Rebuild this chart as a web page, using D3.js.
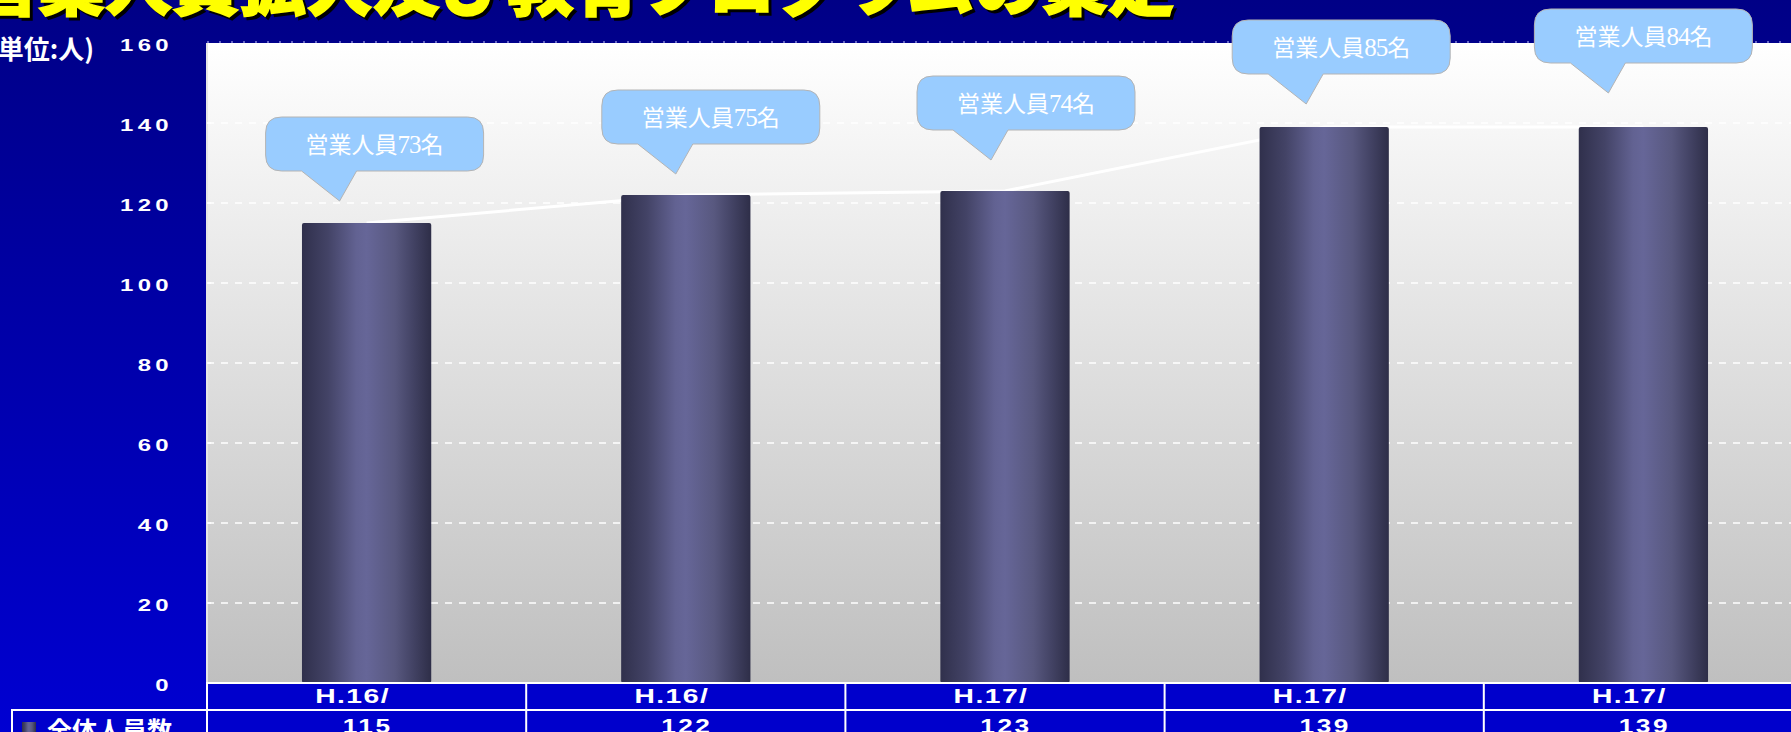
<!DOCTYPE html>
<html>
<head>
<meta charset="utf-8">
<script src="https://cdn.jsdelivr.net/npm/d3@7"></script>
<style>
  html, body { margin: 0; padding: 0; background: #00008a; overflow: hidden; }
  svg { display: block; }
</style>
</head>
<body>
<svg id="chart" width="1791" height="732"></svg>
<script>
// ---- data ----
const titleText = "営業人員拡大及び教育プログラムの策定";
const unitLabel = "(単位:人)";
const seriesName = "全体人員数";
const categories = ["H.16/", "H.16/", "H.17/", "H.17/", "H.17/"];
const totalStaff = [115, 122, 123, 139, 139];
const salesStaff = [73, 75, 74, 85, 84];
const yTicks = [0, 20, 40, 60, 80, 100, 120, 140, 160];

// callout placement relative to each bar (horizontal shift, gap above bar top)
const calloutShiftX = [8, 25, 21, 17, 0];
const calloutLift = [52, 51, 61, 53, 64];

// ---- layout ----
const W = 1791, H = 732;
const plotLeft = 207, plotRight = 1803, plotTop = 43, plotBottom = 683;
const row1Bottom = 710, tableLeft = 12;

const svg = d3.select("#chart");
const defs = svg.append("defs");

const bgGrad = defs.append("linearGradient").attr("id", "bgGrad")
  .attr("x1", 0).attr("y1", 0).attr("x2", 0).attr("y2", 1);
bgGrad.append("stop").attr("offset", 0).attr("stop-color", "#000086");
bgGrad.append("stop").attr("offset", 1).attr("stop-color", "#0000d2");

const plotGrad = defs.append("linearGradient").attr("id", "plotGrad")
  .attr("x1", 0).attr("y1", 0).attr("x2", 0).attr("y2", 1);
plotGrad.append("stop").attr("offset", 0).attr("stop-color", "#ffffff");
plotGrad.append("stop").attr("offset", 1).attr("stop-color", "#bfbfbf");

const barGrad = defs.append("linearGradient").attr("id", "barGrad")
  .attr("x1", 0).attr("y1", 0).attr("x2", 1).attr("y2", 0);
[[0, "#30304c"], [0.2, "#434366"], [0.42, "#626292"], [0.5, "#666698"],
 [0.72, "#58587f"], [0.85, "#444466"], [1, "#2e2e48"]].forEach(([o, c]) =>
  barGrad.append("stop").attr("offset", o).attr("stop-color", c));

svg.append("rect").attr("width", W).attr("height", H).attr("fill", "url(#bgGrad)");

// ---- scales ----
const x = d3.scaleBand().domain(d3.range(categories.length))
  .range([plotLeft, plotRight]).padding(0);
const y = d3.scaleLinear().domain([0, 160]).range([plotBottom, plotTop]);
const barW = x.bandwidth() * 0.405;
const cx = i => x(i) + x.bandwidth() / 2;

// ---- plot area ----
svg.append("rect")
  .attr("x", plotLeft).attr("y", plotTop)
  .attr("width", plotRight - plotLeft).attr("height", plotBottom - plotTop)
  .attr("fill", "url(#plotGrad)");

// dashed gridlines
svg.append("g").selectAll("line").data(yTicks.filter(t => t > 0)).join("line")
  .attr("x1", plotLeft).attr("x2", plotRight)
  .attr("y1", d => y(d) - (d === 160 ? 1 : 0)).attr("y2", d => y(d) - (d === 160 ? 1 : 0))
  .attr("stroke", d => d === 160 ? "#c8c8ff" : "#ffffff")
  .attr("stroke-width", d => d === 160 ? 1 : 1.6)
  .attr("stroke-dasharray", d => d === 160 ? "2,10" : "7,7");

// connecting line through totals (sits behind the bars)
svg.append("path")
  .datum(totalStaff)
  .attr("fill", "none").attr("stroke", "#ffffff").attr("stroke-width", 3)
  .attr("d", d3.line().x((d, i) => cx(i)).y(d => y(d)));

// bars
svg.append("g").selectAll("rect").data(totalStaff).join("rect")
  .attr("x", (d, i) => cx(i) - barW / 2)
  .attr("y", d => y(d))
  .attr("width", barW)
  .attr("height", d => y(0) - y(d))
  .attr("rx", 2)
  .attr("fill", "url(#barGrad)");

// axis frame
svg.append("line").attr("x1", plotLeft).attr("x2", plotLeft)
  .attr("y1", plotTop).attr("y2", plotBottom)
  .attr("stroke", "#e6e6e6").attr("stroke-width", 2);
svg.append("g").selectAll("line").data(yTicks.filter(t => t > 0 && t < 160)).join("line")
  .attr("x1", plotLeft).attr("x2", plotLeft + 4)
  .attr("y1", d => y(d)).attr("y2", d => y(d))
  .attr("stroke", "#ffffff").attr("stroke-width", 1.5);

// y tick labels
const wide = "'Liberation Sans', Arial, sans-serif";
svg.append("g").selectAll("text").data(yTicks).join("text")
  .attr("transform", d => `translate(173,${y(d) + 2}) scale(1.45,1)`)
  .attr("text-anchor", "end")
  .attr("dominant-baseline", "central")
  .attr("font-family", wide).attr("font-weight", "bold")
  .attr("font-size", 16.5).attr("letter-spacing", 3)
  .attr("fill", "#ffffff")
  .text(d => d);

// unit label
svg.append("text")
  .attr("x", 94).attr("y", 59)
  .attr("text-anchor", "end")
  .attr("font-family", "'Noto Sans CJK JP', sans-serif").attr("font-weight", "bold")
  .attr("font-size", 26).attr("fill", "#ffffff")
  .text(unitLabel);

// ---- data table ----
const table = svg.append("g");
table.append("rect")
  .attr("x", plotLeft).attr("y", plotBottom)
  .attr("width", plotRight - plotLeft).attr("height", row1Bottom - plotBottom)
  .attr("fill", "#0000cc").attr("stroke", "#ffffff").attr("stroke-width", 2);
table.append("rect")
  .attr("x", tableLeft).attr("y", row1Bottom)
  .attr("width", plotRight - tableLeft).attr("height", 60)
  .attr("fill", "#0000cc").attr("stroke", "#ffffff").attr("stroke-width", 2);
table.selectAll("line.sep").data(d3.range(categories.length + 1)).join("line")
  .attr("class", "sep")
  .attr("x1", i => plotLeft + i * x.bandwidth()).attr("x2", i => plotLeft + i * x.bandwidth())
  .attr("y1", plotBottom).attr("y2", H + 10)
  .attr("stroke", "#ffffff").attr("stroke-width", 2);

table.selectAll("text.cat").data(categories).join("text")
  .attr("class", "cat")
  .attr("transform", (d, i) => `translate(${cx(i) - 14},703) scale(1.45,1)`)
  .attr("text-anchor", "middle")
  .attr("font-family", wide).attr("font-weight", "bold")
  .attr("font-size", 19.5).attr("letter-spacing", 1)
  .attr("fill", "#ffffff")
  .text(d => d);

table.selectAll("text.val").data(totalStaff).join("text")
  .attr("class", "val")
  .attr("transform", (d, i) => `translate(${cx(i) + 1},733) scale(1.25,1)`)
  .attr("text-anchor", "middle")
  .attr("font-family", wide).attr("font-weight", "bold")
  .attr("font-size", 21).attr("letter-spacing", 2)
  .attr("fill", "#ffffff")
  .text(d => d);

// legend key and series name
table.append("rect")
  .attr("x", 22).attr("y", 722).attr("width", 14).attr("height", 20)
  .attr("fill", "url(#barGrad)");
table.append("text")
  .attr("x", 47).attr("y", 740)
  .attr("font-family", "'Noto Sans CJK JP', sans-serif").attr("font-weight", "bold")
  .attr("font-size", 25).attr("fill", "#ffffff")
  .text(seriesName);

// ---- callouts for sales staff ----
const boxW = 218, boxH = 54, r = 16;
function calloutPath(c, bottom) {
  const left = c - boxW / 2, right = c + boxW / 2, top = bottom - boxH;
  const bl = c - 73, br = c - 18, tipX = c - 35, tipY = bottom + 30;
  return `M${left + r},${top} H${right - r} Q${right},${top} ${right},${top + r}` +
    ` V${bottom - r} Q${right},${bottom} ${right - r},${bottom}` +
    ` H${br} L${tipX},${tipY} L${bl},${bottom}` +
    ` H${left + r} Q${left},${bottom} ${left},${bottom - r}` +
    ` V${top + r} Q${left},${top} ${left + r},${top} Z`;
}
const callouts = svg.append("g").selectAll("g").data(salesStaff).join("g");
callouts.append("path")
  .attr("d", (d, i) => calloutPath(cx(i) + calloutShiftX[i], y(totalStaff[i]) - calloutLift[i]))
  .attr("fill", "#99ccff").attr("stroke", "#b4b4b4").attr("stroke-width", 1);
const ct = callouts.append("text")
  .attr("x", (d, i) => cx(i) + calloutShiftX[i])
  .attr("y", (d, i) => y(totalStaff[i]) - calloutLift[i] - boxH / 2 + 9)
  .attr("text-anchor", "middle")
  .attr("font-family", "'Noto Sans CJK JP', sans-serif")
  .attr("font-size", 23).attr("fill", "#ffffff");
ct.append("tspan").text("営業人員");
ct.append("tspan").attr("font-family", "'Liberation Serif', serif").attr("font-size", 25)
  .attr("letter-spacing", -1)
  .text(d => d);
ct.append("tspan").text("名");

// ---- title ----
const title = svg.append("g")
  .attr("font-family", "'Noto Sans CJK JP', sans-serif")
  .attr("font-weight", 900).attr("font-size", 67);
title.append("text")
  .attr("x", -26).attr("y", 13)
  .attr("fill", "#000000").attr("stroke", "#000000").attr("stroke-width", 1.5)
  .text(titleText);
title.append("text")
  .attr("x", -29).attr("y", 10)
  .attr("fill", "#ffff00").attr("stroke", "#ffff00").attr("stroke-width", 1.5)
  .text(titleText);
</script>
</body>
</html>
